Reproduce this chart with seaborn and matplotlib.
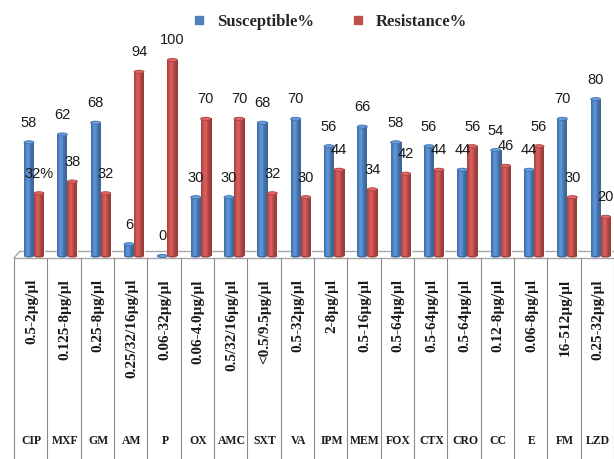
import numpy as np
import pandas as pd
import seaborn as sns
import matplotlib.pyplot as plt
from matplotlib.patches import Ellipse
from matplotlib.lines import Line2D
from matplotlib.colors import to_rgb

# Antibiotic panel and tested concentration ranges
drugs = ["CIP", "MXF", "GM", "AM", "P", "OX", "AMC", "SXT", "VA",
         "IPM", "MEM", "FOX", "CTX", "CRO", "CC", "E", "FM", "LZD"]
concentrations = ["0.5-2µg/µl", "0.125-8µg/µl", "0.25-8µg/µl", "0.25/32/16µg/µl",
                  "0.06-32µg/µl", "0.06-4.0µg/µl", "0.5/32/16µg/µl", "<0.5/9.5µg/µl",
                  "0.5-32µg/µl", "2-8µg/µl", "0.5-16µg/µl", "0.5-64µg/µl",
                  "0.5-64µg/µl", "0.5-64µg/µl", "0.12-8µg/µl", "0.06-8µg/µl",
                  "16-512µg/µl", "0.25-32µg/µl"]
susceptible = [58, 62, 68, 6, 0, 30, 30, 68, 70, 56, 66, 58, 56, 44, 54, 44, 70, 80]
resistance = [32, 38, 32, 94, 100, 70, 70, 32, 30, 44, 34, 42, 44, 56, 46, 56, 30, 20]
series_names = ["Susceptible%", "Resistance%"]
# labels carrying a percent sign
percent_labels = {("CIP", "Resistance%")}

BLUE = "#4f81bd"
RED = "#c0504d"
W, H = 614, 459

df = pd.DataFrame({
    "drug": drugs * 2,
    "series": [series_names[0]] * len(drugs) + [series_names[1]] * len(drugs),
    "value": susceptible + resistance,
})

sns.set_theme(style="white")
plt.rcParams["font.family"] = ["Liberation Serif", "DejaVu Serif"]

fig = plt.figure(figsize=(W / 100, H / 100), dpi=100)
fig.patch.set_facecolor("white")

# pixel-space overlay for the floor and the concentration table
tab = fig.add_axes([0, 0, 1, 1])
tab.set_xlim(0, W)
tab.set_ylim(H, 0)
tab.axis("off")

# bar area
ax = fig.add_axes([14 / W, (H - 256) / H, 600 / W, 196 / H])
sns.barplot(data=df, x="drug", y="value", hue="series", order=drugs,
            hue_order=series_names, palette=[BLUE, RED], width=0.6, gap=0,
            saturation=1, legend=False, ax=ax)
xlim = (-0.6, len(drugs) - 0.6)

# cylinder shading across each bar, plus top and bottom caps
t = np.linspace(0, 1, 40)
shade = 0.78 + 0.38 * np.exp(-((t - 0.38) / 0.28) ** 2)
cap_h = 1.6
for bar in list(ax.patches):
    x0, w, h = bar.get_x(), bar.get_width(), bar.get_height()
    base = np.array(to_rgb(bar.get_facecolor()))
    img = np.clip(base[None, None, :] * shade[None, :, None], 0, 1)
    if h > 0:
        ax.imshow(img, extent=[x0, x0 + w, 0, h], aspect="auto",
                  interpolation="bilinear", zorder=2.5)
    top = tuple(np.clip(base * 1.15 + 0.04, 0, 1))
    ax.add_patch(Ellipse((x0 + w / 2, h), w, cap_h, facecolor=top,
                         edgecolor=tuple(base * 0.85), lw=0.6, zorder=3,
                         clip_on=False))
    ax.add_patch(Ellipse((x0 + w / 2, 0), w, cap_h, facecolor=tuple(base * 0.85),
                         edgecolor="none", zorder=2, clip_on=False))
ax.set_xlim(*xlim)
ax.set_ylim(0, 100)
ax.axis("off")

# value labels
label_font = ["Liberation Sans", "DejaVu Sans"]
for i, d in enumerate(drugs):
    for j, (name, vals) in enumerate(zip(series_names, [susceptible, resistance])):
        v = vals[i]
        txt = f"{v}%" if (d, name) in percent_labels else f"{v}"
        xc = i + (-0.15 if j == 0 else 0.15)
        ax.annotate(txt, (xc, v), xytext=(0, 9), textcoords="offset points",
                    ha="center", va="bottom", fontsize=10.5, family=label_font,
                    color="#1a1a1a", annotation_clip=False)

# 3D floor outline
grey = "#a6a6a6"
tab.plot([20, W], [251, 251], color=grey, lw=1.0)
tab.plot([20, 14], [251, 258], color=grey, lw=1.0)
tab.plot([14, W], [258, 258], color=grey, lw=1.0)

# table of concentrations
col_w = (W - 14) / len(drugs)
for k in range(len(drugs) + 1):
    x = 14 + k * col_w
    tab.plot([x, x], [258, H], color="#8c8c8c", lw=0.8)
for i, (d, c) in enumerate(zip(drugs, concentrations)):
    xc = 14 + (i + 0.5) * col_w + 1
    tab.text(xc, 279, c, rotation=90, ha="center", va="top", fontsize=11,
             fontweight="bold", color="#1a1a1a")
    tab.text(xc, 441, d, ha="center", va="center", fontsize=8.5,
             fontweight="bold", color="#1a1a1a")

# legend
handles = [Line2D([], [], marker="s", ls="none", markersize=6, color=BLUE),
           Line2D([], [], marker="s", ls="none", markersize=6, color=RED)]
fig.legend(handles, series_names, loc="center", bbox_to_anchor=(325 / W, 1 - 22 / H),
           ncol=2, frameon=False, handletextpad=0.1, columnspacing=1.6,
           prop={"family": "Liberation Serif", "weight": "bold", "size": 12})

fig.savefig("out.png", dpi=100)
